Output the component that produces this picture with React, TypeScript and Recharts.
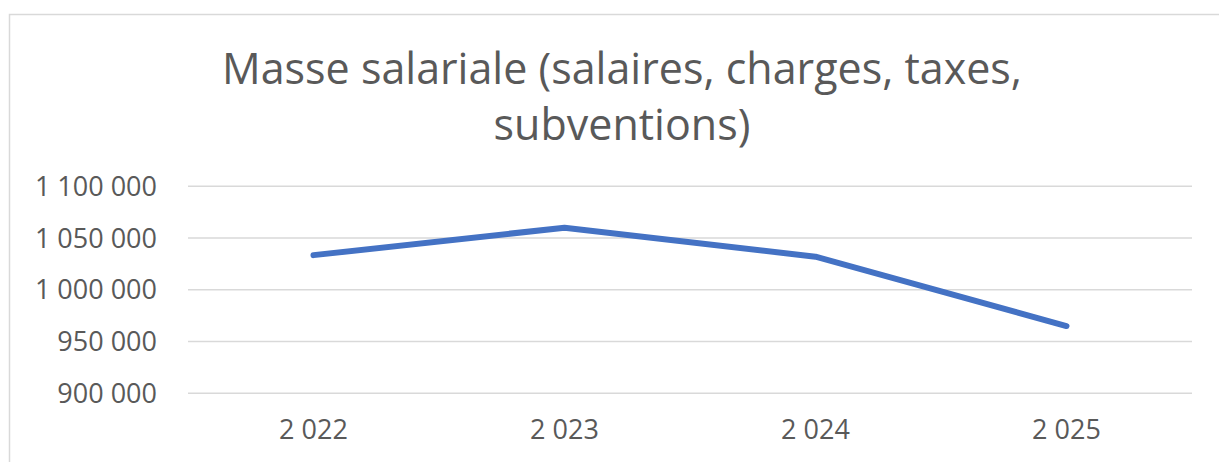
import { CartesianGrid, Line, LineChart, XAxis, YAxis } from "recharts";

const years = ["2 022", "2 023", "2 024", "2 025"];
const masseSalariale = [1033500, 1060000, 1032000, 965000];
const yTicks = [900000, 950000, 1000000, 1050000, 1100000];
const titleLines = ["Masse salariale (salaires, charges, taxes,", "subventions)"];

// espaces comme séparateur de milliers, façon Excel FR
const formatNombre = (v: number) => String(Math.round(v)).replace(/\B(?=(\d{3})+(?!\d))/g, " ");

const data = years.map((year, i) => ({ year, value: masseSalariale[i] }));

const FONT = "'Open Sans', sans-serif";
const TEXT = "#595959";

export default function App() {
  return (
    <div style={{ position: "absolute", left: 0, top: 0, width: 1219, height: 462, background: "#fff" }}>
      <svg width={1219} height={462} style={{ position: "absolute", left: 0, top: 0 }}>
        <rect x={9.5} y={14.5} width={1240} height={480} fill="#fff" stroke="#d9d9d9" strokeWidth={1.5} />
        {titleLines.map((t, i) => (
          <text key={t} x={622} y={84 + i * 56} textAnchor="middle" fontFamily={FONT} fontSize={43} fill={TEXT}>
            {t}
          </text>
        ))}
      </svg>
      <div style={{ position: "absolute", left: 0, top: 0 }}>
        <LineChart width={1219} height={462} data={data} margin={{ top: 186.3, right: 27, bottom: 38.7, left: 8 }}>
          <CartesianGrid stroke="#d9d9d9" strokeWidth={1.5} vertical={false} />
          <XAxis
            dataKey="year"
            scale="band"
            axisLine={false}
            tickLine={false}
            tickMargin={21}
            height={30}
            tick={{ fontSize: 27, fill: TEXT, fontFamily: FONT }}
          />
          <YAxis
            domain={[900000, 1100000]}
            ticks={yTicks}
            tickFormatter={formatNombre}
            axisLine={false}
            tickLine={false}
            tickMargin={25}
            width={180}
            tick={{ fontSize: 27, fill: TEXT, fontFamily: FONT }}
          />
          <Line
            type="linear"
            dataKey="value"
            stroke="#4472C4"
            strokeWidth={6}
            strokeLinecap="round"
            strokeLinejoin="round"
            dot={false}
            activeDot={false}
            isAnimationActive={false}
          />
        </LineChart>
      </div>
    </div>
  );
}
